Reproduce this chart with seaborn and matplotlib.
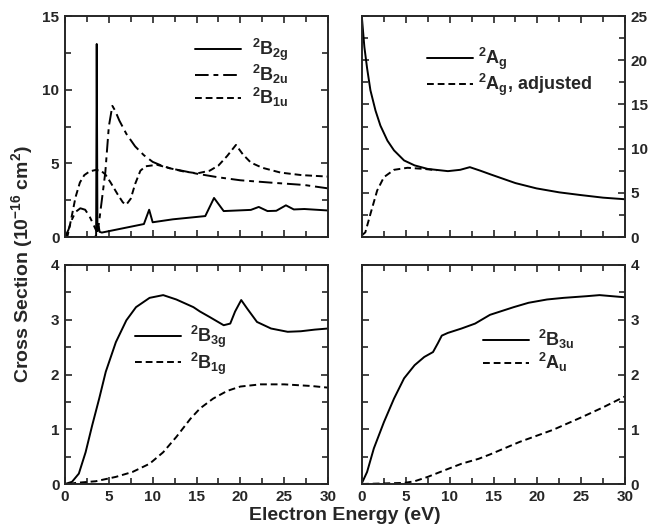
import numpy as np
import pandas as pd
import seaborn as sns
import matplotlib
from matplotlib import pyplot as plt
from matplotlib.ticker import MultipleLocator

sns.set_style('ticks')
plt.rcParams['font.family'] = ['Liberation Sans', 'DejaVu Sans']
plt.rcParams['font.weight'] = 'bold'
plt.rcParams['mathtext.fontset'] = 'custom'
plt.rcParams['mathtext.rm'] = 'Liberation Sans:bold'
plt.rcParams['mathtext.it'] = 'Liberation Sans:bold'
plt.rcParams['mathtext.bf'] = 'Liberation Sans:bold'
plt.rcParams['mathtext.default'] = 'rm'

# top left
b2g_x = [0, 3.4, 3.55, 3.62, 3.7, 3.85, 3.95, 4.2, 9.0, 9.6, 10.0, 12.3, 16.0, 17.0, 18.1, 21.2, 22.1, 23.1, 24.1, 25.2, 26.1, 27.3, 30]
b2g_y = [0, 0, 0.1, 13.1, 0.4, 0.7, 0.35, 0.3, 0.88, 1.85, 1.0, 1.2, 1.42, 2.65, 1.76, 1.84, 2.04, 1.76, 1.78, 2.15, 1.87, 1.9, 1.8]
b2u_x = [0, 0.4, 0.8, 1.2, 1.75, 2.3, 2.8, 3.2, 3.55, 3.8, 4.2, 4.6, 5.0, 5.4, 5.7, 6.2, 7.0, 8.0, 9.0, 10.0, 11.0, 12.0, 13.5, 15.0, 17.5, 20.0, 23.5, 27.3, 30]
b2u_y = [0, 0.5, 1.2, 1.7, 1.95, 1.85, 1.4, 0.9, 0.45, 0.6, 2.5, 4.4, 7.5, 8.9, 8.6, 7.9, 7.0, 6.15, 5.55, 5.1, 4.85, 4.66, 4.48, 4.3, 4.05, 3.85, 3.69, 3.53, 3.3]
b1u_x = [0, 0.3, 0.7, 1.2, 1.7, 2.2, 2.8, 3.5, 4.1, 4.6, 5.2, 6.0, 6.6, 7.0, 7.5, 8.0, 8.6, 9.2, 10.5, 12.0, 13.5, 15.1, 16.5, 17.5, 18.5, 19.5, 20.3, 21.2, 22.5, 24.6, 27.0, 30]
b1u_y = [0, 0.1, 1.2, 2.7, 3.7, 4.2, 4.45, 4.55, 4.5, 4.25, 3.7, 2.9, 2.35, 2.2, 2.6, 3.6, 4.5, 4.8, 4.9, 4.66, 4.45, 4.32, 4.5, 4.85, 5.5, 6.25, 5.6, 5.05, 4.7, 4.37, 4.2, 4.1]

# top right
ag_x = [0, 0.27, 0.58, 0.96, 1.54, 2.1, 2.9, 3.65, 4.8, 6.0, 7.5, 9.8, 11.2, 12.3, 13.5, 14.7, 17.5, 19.9, 22.5, 24.9, 27.5, 30]
ag_y = [24.7, 21.5, 19.1, 16.6, 14.3, 12.6, 10.9, 9.8, 8.66, 8.1, 7.7, 7.45, 7.6, 7.9, 7.5, 7.07, 6.1, 5.5, 5.05, 4.75, 4.45, 4.27]
agadj_x = [0, 0.38, 0.96, 1.73, 2.5, 3.65, 5.2, 7.1, 8.5]
agadj_y = [0.2, 0.53, 2.6, 5.26, 6.77, 7.6, 7.83, 7.7, 7.55]

# bottom left
b3g_x = [0, 0.8, 1.58, 2.35, 3.1, 3.9, 4.65, 5.8, 7.0, 8.1, 9.65, 11.2, 12.7, 14.65, 15.4, 16.5, 18.1, 18.85, 19.4, 20.1, 20.8, 21.9, 23.5, 25.4, 26.9, 28.5, 30]
b3g_y = [0, 0.04, 0.19, 0.58, 1.07, 1.56, 2.05, 2.59, 2.99, 3.23, 3.4, 3.45, 3.37, 3.23, 3.15, 3.05, 2.9, 2.93, 3.15, 3.36, 3.2, 2.96, 2.84, 2.78, 2.79, 2.82, 2.84]
b1g_x = [0.5, 1.2, 3.5, 5.8, 7.7, 9.65, 11.2, 12.7, 14.3, 15.4, 16.9, 18.5, 20.0, 22.3, 25.0, 28.1, 30]
b1g_y = [0, 0.02, 0.05, 0.13, 0.22, 0.37, 0.58, 0.86, 1.19, 1.38, 1.56, 1.7, 1.78, 1.82, 1.82, 1.79, 1.76]

# bottom right
b3u_x = [0, 0.58, 1.35, 2.5, 3.65, 4.8, 6.0, 7.1, 8.1, 8.65, 9.1, 9.8, 11.35, 12.9, 14.6, 17.3, 19.0, 21.1, 23.0, 25.6, 27.1, 30]
b3u_y = [0.02, 0.22, 0.65, 1.13, 1.56, 1.93, 2.17, 2.32, 2.41, 2.57, 2.71, 2.76, 2.84, 2.93, 3.09, 3.23, 3.31, 3.37, 3.4, 3.43, 3.45, 3.41]
au_x = [0, 4.8, 6.0, 7.5, 9.4, 11.35, 13.3, 14.6, 18.0, 21.8, 25.2, 27.5, 30]
au_y = [0, 0.02, 0.05, 0.13, 0.25, 0.37, 0.46, 0.54, 0.77, 0.99, 1.23, 1.4, 1.6]

W, H = 653, 529
fig = plt.figure(figsize=(W / 100, H / 100), dpi=100)
lx, rx, aw = 65 / W, 362 / W, 263 / W
ax_tl = fig.add_axes([lx, 1 - 237 / H, aw, 221 / H])
ax_tr = fig.add_axes([rx, 1 - 237 / H, aw, 221 / H])
ax_bl = fig.add_axes([lx, 1 - 484 / H, aw, 219 / H])
ax_br = fig.add_axes([rx, 1 - 484 / H, aw, 219 / H])

lw = 1.4
dash = (0, (3.5, 2))
dashdot = (0, (7, 2.5, 2.5, 2.5))

sns.lineplot(x=b2g_x, y=b2g_y, ax=ax_tl, color='k', lw=lw, label='$^2$B$_{2g}$')
sns.lineplot(x=b2u_x, y=b2u_y, ax=ax_tl, color='k', lw=lw, linestyle=dashdot, label='$^2$B$_{2u}$')
sns.lineplot(x=b1u_x, y=b1u_y, ax=ax_tl, color='k', lw=lw, linestyle=dash, label='$^2$B$_{1u}$')

sns.lineplot(x=ag_x, y=ag_y, ax=ax_tr, color='k', lw=lw, label='$^2$A$_g$')
sns.lineplot(x=agadj_x, y=agadj_y, ax=ax_tr, color='k', lw=lw, linestyle=dash, label='$^2$A$_g$, adjusted')

sns.lineplot(x=b3g_x, y=b3g_y, ax=ax_bl, color='k', lw=lw, label='$^2$B$_{3g}$')
sns.lineplot(x=b1g_x, y=b1g_y, ax=ax_bl, color='k', lw=lw, linestyle=dash, label='$^2$B$_{1g}$')

sns.lineplot(x=b3u_x, y=b3u_y, ax=ax_br, color='k', lw=lw, label='$^2$B$_{3u}$')
sns.lineplot(x=au_x, y=au_y, ax=ax_br, color='k', lw=lw, linestyle=dash, label='$^2$A$_u$')

for ax, ymax, ymaj, ymin in [(ax_tl, 15, 5, 2.5), (ax_tr, 25, 5, 2.5), (ax_bl, 4, 1, 0.5), (ax_br, 4, 1, 0.5)]:
    ax.set_xlim(0, 30)
    ax.set_ylim(0, ymax)
    ax.xaxis.set_major_locator(MultipleLocator(5))
    ax.xaxis.set_minor_locator(MultipleLocator(2.5))
    ax.yaxis.set_major_locator(MultipleLocator(ymaj))
    ax.yaxis.set_minor_locator(MultipleLocator(ymin))
    ax.tick_params(which='both', direction='in', top=True, right=True, width=1.2, labelsize=11, pad=4)
    ax.tick_params(which='major', length=5)
    ax.tick_params(which='minor', length=4)
    for s in ax.spines.values():
        s.set_linewidth(1.4)
    ax.set_xlabel('')
    ax.set_ylabel('')

ax_tl.tick_params(labelbottom=False)
ax_tr.tick_params(labelbottom=False, labelleft=False, labelright=True)
ax_br.tick_params(labelleft=False, labelright=True)

leg_kw = dict(frameon=False, fontsize=13, handlelength=2.55, labelspacing=0.0,
              borderpad=0, borderaxespad=0, loc='center left')
ax_tl.legend(bbox_to_anchor=(0.496, 0.742), handletextpad=0.6, **leg_kw)
ax_tr.legend(bbox_to_anchor=(0.247, 0.747), handletextpad=0.25, **leg_kw)
ax_bl.legend(bbox_to_anchor=(0.267, 0.61), handletextpad=0.5, **leg_kw)
ax_br.legend(bbox_to_anchor=(0.46, 0.607), handletextpad=0.5, **leg_kw)

fig.text(22 / W, 0.5, 'Cross Section (10$^{-16}$ cm$^2$)', rotation=90, ha='center', va='center', fontsize=14, fontweight='bold')
fig.text(345 / W, 1 - 515 / H, 'Electron Energy (eV)', ha='center', va='center', fontsize=14, fontweight='bold')

fig.savefig('out.png', dpi=100)
